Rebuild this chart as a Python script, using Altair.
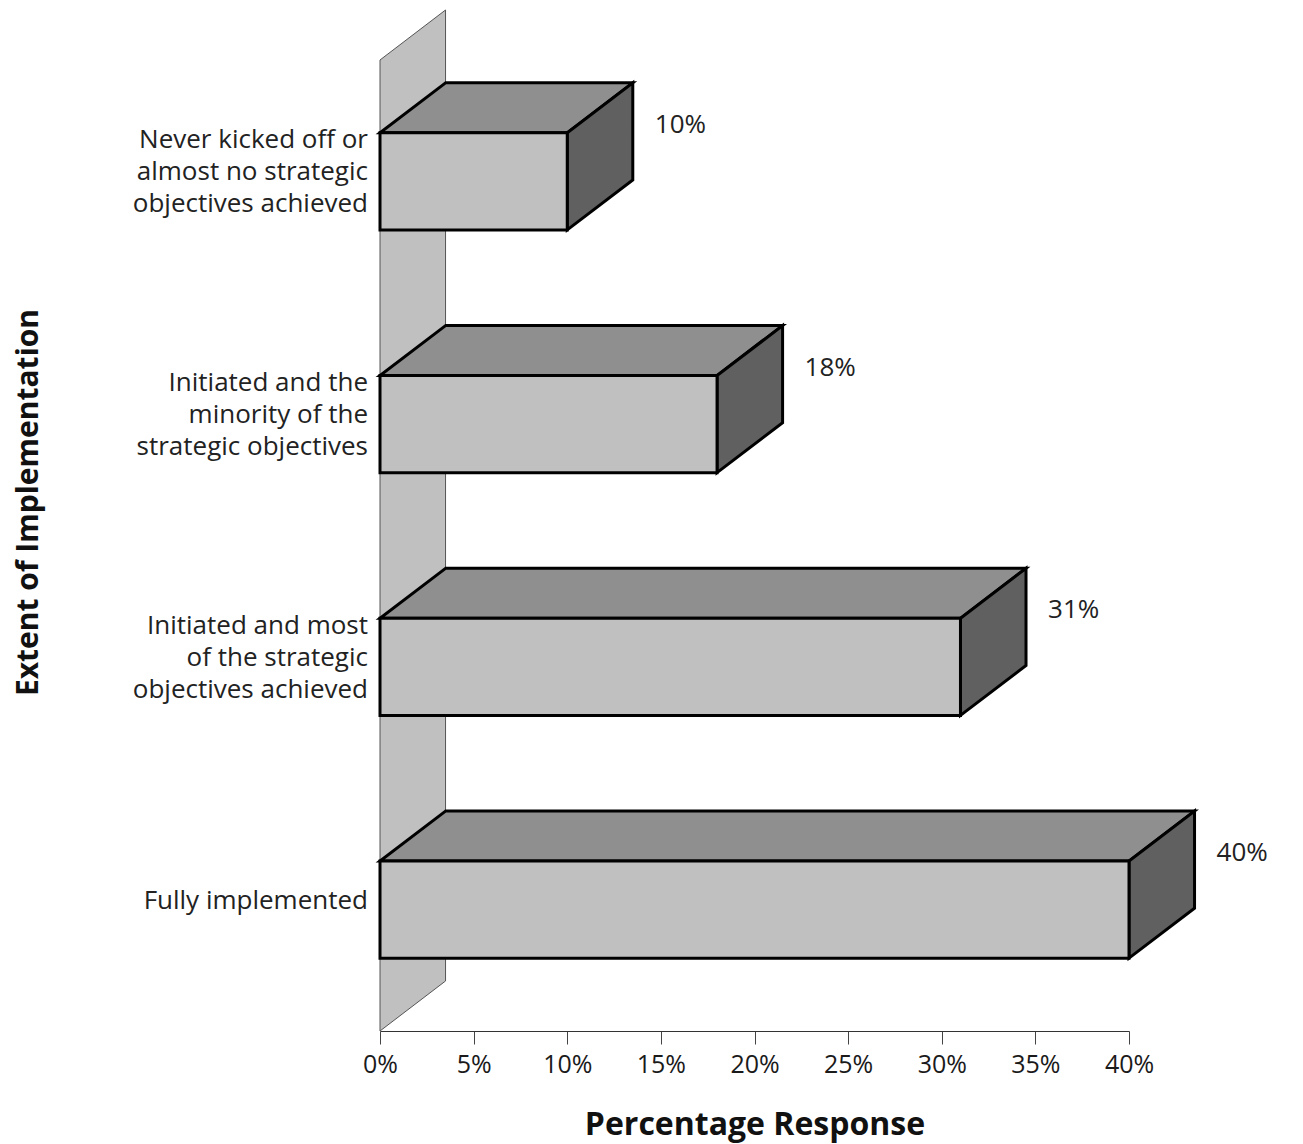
import altair as alt
import pandas as pd

# Survey results: extent of implementation of strategic objectives
categories = [
    "Never kicked off or\nalmost no strategic\nobjectives achieved",
    "Initiated and the\nminority of the\nstrategic objectives",
    "Initiated and most\nof the strategic\nobjectives achieved",
    "Fully implemented",
]
values = [10, 18, 31, 40]
x_ticks = [0, 5, 10, 15, 20, 25, 30, 35, 40]

FONT = "Open Sans"
DX = 3.5      # depth of the 3D extrusion along x (percentage units)
DY = 0.206    # depth of the 3D extrusion along y (category units)
HALF = 0.2    # half the height of a bar's front face
N = len(categories)
PLOT_H = 971
LINE_H = 32   # line height of the category labels, px

front_rows, top_rows, side_rows, label_rows = [], [], [], []
for i, (cat, v) in enumerate(zip(categories, values)):
    c = N - 0.5 - i  # first category at the top
    lo, hi = c - HALF, c + HALF
    front_rows.append({"bar": i, "x": 0, "x2": v, "y": lo, "y2": hi})
    top_rows += [
        {"bar": i, "y": hi, "x": 0, "x2": v},
        {"bar": i, "y": hi + DY, "x": DX, "x2": v + DX},
    ]
    side_rows += [
        {"bar": i, "x": v, "y": lo, "y2": hi},
        {"bar": i, "x": v + DX, "y": lo + DY, "y2": hi + DY},
    ]
    n_lines = cat.count("\n") + 1
    # anchor of the first text line so the block is centred on the bar
    ly = c + (n_lines - 1) / 2 * LINE_H * N / PLOT_H
    label_rows.append({"cat": cat, "ly": ly, "v": v, "tx": v + DX, "ty": hi,
                       "txt": f"{v}%"})

front = pd.DataFrame(front_rows)
top = pd.DataFrame(top_rows)
side = pd.DataFrame(side_rows)
labels = pd.DataFrame(label_rows)
wall = pd.DataFrame([
    {"x": 0, "y": 0, "y2": N},
    {"x": DX, "y": DY, "y2": N + DY},
])

xscale = alt.Scale(domain=[0, 40], nice=False, zero=False)
yscale = alt.Scale(domain=[0, N], nice=False, zero=False)

x_axis = alt.Axis(
    values=x_ticks, labelExpr="datum.value + '%'", grid=False,
    domainColor="#333333", tickColor="#444444", tickSize=13, domainWidth=1,
    tickWidth=1, labelFontSize=25, labelColor="#1a1a1a", labelFont=FONT,
    labelPadding=8, labelFlush=False, title="Percentage Response",
    titleFontSize=32, titleFont=FONT, titleFontWeight="bold",
    titleColor="#111111", titlePadding=32,
)
y_axis = alt.Axis(
    domain=False, ticks=False, labels=False, grid=False,
    title="Extent of Implementation", titleFontSize=30, titleFont=FONT,
    titleFontWeight="bold", titleColor="#111111", titleAngle=270,
    titleAlign="center", titleBaseline="middle", titleX=-352, titleY=442,
)

wall_layer = alt.Chart(wall).mark_area(
    orient="vertical", fill="#c0c0c0", stroke="#555555", strokeWidth=1
).encode(
    x=alt.X("x:Q", scale=xscale, axis=x_axis),
    y=alt.Y("y:Q", scale=yscale, axis=y_axis),
    y2="y2:Q",
)

top_layer = alt.Chart(top).mark_area(
    orient="horizontal", fill="#8f8f8f", stroke="black", strokeWidth=3,
    strokeJoin="miter"
).encode(
    y=alt.Y("y:Q", scale=yscale),
    x=alt.X("x:Q", scale=xscale),
    x2="x2:Q",
    detail="bar:N",
)

side_layer = alt.Chart(side).mark_area(
    orient="vertical", fill="#606060", stroke="black", strokeWidth=3,
    strokeJoin="miter"
).encode(
    x=alt.X("x:Q", scale=xscale),
    y=alt.Y("y:Q", scale=yscale),
    y2="y2:Q",
    detail="bar:N",
)

front_layer = alt.Chart(front).mark_rect(
    fill="#c0c0c0", stroke="black", strokeWidth=3, strokeJoin="miter"
).encode(
    x=alt.X("x:Q", scale=xscale),
    x2="x2:Q",
    y=alt.Y("y:Q", scale=yscale),
    y2="y2:Q",
)

cat_layer = alt.Chart(labels).mark_text(
    align="right", baseline="middle", dx=-12, dy=-9, fontSize=26,
    font=FONT, color="#222222", lineBreak="\n", lineHeight=LINE_H
).encode(
    x=alt.value(0),
    y=alt.Y("ly:Q", scale=yscale),
    text="cat:N",
)

val_layer = alt.Chart(labels).mark_text(
    align="left", baseline="middle", dx=22, dy=-8, fontSize=26,
    font=FONT, color="#222222"
).encode(
    x=alt.X("tx:Q", scale=xscale),
    y=alt.Y("ty:Q", scale=yscale),
    text="txt:N",
)

chart = alt.layer(
    wall_layer, top_layer, side_layer, front_layer, cat_layer, val_layer
).properties(
    width=749, height=PLOT_H,
    background="white",
    autosize=alt.AutoSizeParams(type="none"),
    padding={"left": 380, "top": 60, "right": 174, "bottom": 113},
).configure_view(stroke="transparent", strokeWidth=0)

chart.save("out.html", embed_options={"renderer": "svg", "actions": False})
